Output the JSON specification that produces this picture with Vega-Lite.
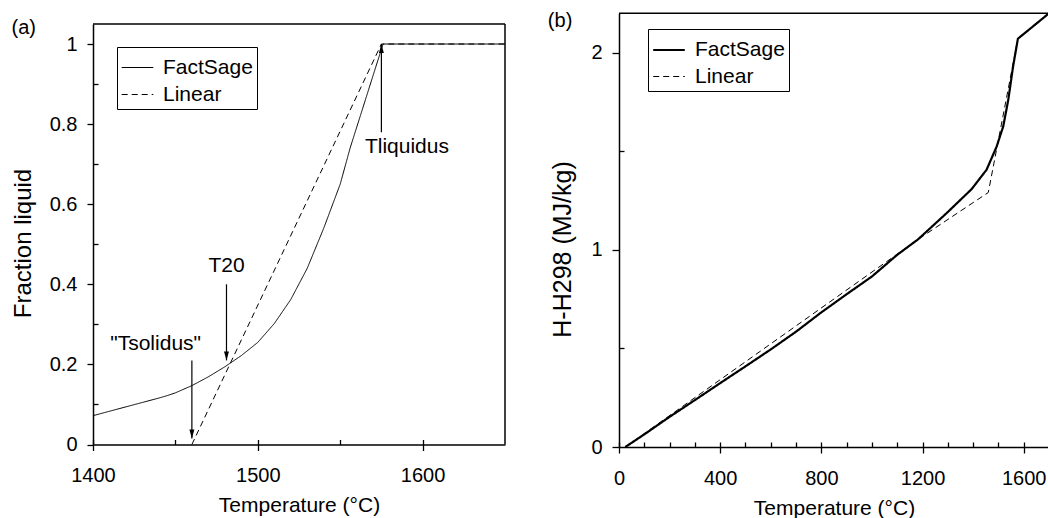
{
  "$schema": "https://vega.github.io/schema/vega-lite/v6.json",
  "width": 1048,
  "height": 518,
  "autosize": {"type": "none"},
  "padding": 0,
  "background": "white",
  "datasets": {
    "fracLiquid": [
      {"T": 1400, "f": 0.072, "series": "FactSage"},
      {"T": 1410, "f": 0.083, "series": "FactSage"},
      {"T": 1420, "f": 0.094, "series": "FactSage"},
      {"T": 1430, "f": 0.105, "series": "FactSage"},
      {"T": 1440, "f": 0.116, "series": "FactSage"},
      {"T": 1445, "f": 0.122, "series": "FactSage"},
      {"T": 1450, "f": 0.129, "series": "FactSage"},
      {"T": 1460, "f": 0.147, "series": "FactSage"},
      {"T": 1470, "f": 0.169, "series": "FactSage"},
      {"T": 1480, "f": 0.194, "series": "FactSage"},
      {"T": 1490, "f": 0.222, "series": "FactSage"},
      {"T": 1500, "f": 0.255, "series": "FactSage"},
      {"T": 1510, "f": 0.302, "series": "FactSage"},
      {"T": 1520, "f": 0.362, "series": "FactSage"},
      {"T": 1530, "f": 0.44, "series": "FactSage"},
      {"T": 1540, "f": 0.54, "series": "FactSage"},
      {"T": 1550, "f": 0.65, "series": "FactSage"},
      {"T": 1556, "f": 0.74, "series": "FactSage"},
      {"T": 1566, "f": 0.87, "series": "FactSage"},
      {"T": 1576, "f": 1.0, "series": "FactSage"},
      {"T": 1650, "f": 1.0, "series": "FactSage"},
      {"T": 1460, "f": 0.0, "series": "Linear"},
      {"T": 1575, "f": 1.0, "series": "Linear"},
      {"T": 1650, "f": 1.0, "series": "Linear"}
    ],
    "enthalpy": [
      {"T": 25, "H": 0.0, "series": "FactSage"},
      {"T": 100, "H": 0.064, "series": "FactSage"},
      {"T": 200, "H": 0.153, "series": "FactSage"},
      {"T": 300, "H": 0.238, "series": "FactSage"},
      {"T": 400, "H": 0.324, "series": "FactSage"},
      {"T": 500, "H": 0.409, "series": "FactSage"},
      {"T": 600, "H": 0.495, "series": "FactSage"},
      {"T": 700, "H": 0.585, "series": "FactSage"},
      {"T": 800, "H": 0.683, "series": "FactSage"},
      {"T": 900, "H": 0.775, "series": "FactSage"},
      {"T": 1000, "H": 0.865, "series": "FactSage"},
      {"T": 1100, "H": 0.975, "series": "FactSage"},
      {"T": 1183, "H": 1.054, "series": "FactSage"},
      {"T": 1295, "H": 1.186, "series": "FactSage"},
      {"T": 1394, "H": 1.308, "series": "FactSage"},
      {"T": 1453, "H": 1.406, "series": "FactSage"},
      {"T": 1493, "H": 1.524, "series": "FactSage"},
      {"T": 1519, "H": 1.626, "series": "FactSage"},
      {"T": 1539, "H": 1.761, "series": "FactSage"},
      {"T": 1558, "H": 1.93, "series": "FactSage"},
      {"T": 1577, "H": 2.071, "series": "FactSage"},
      {"T": 1700, "H": 2.2, "series": "FactSage"},
      {"T": 25, "H": 0.0, "series": "Linear"},
      {"T": 1183, "H": 1.054, "series": "Linear"},
      {"T": 1460, "H": 1.291, "series": "Linear"},
      {"T": 1577, "H": 2.071, "series": "Linear"},
      {"T": 1700, "H": 2.2, "series": "Linear"}
    ],
    "arrowsA": [
      {"name": "Tliquidus", "x": 1575, "tail": 0.78, "tip": 1.0, "dir": "up"},
      {"name": "T20", "x": 1481, "tail": 0.40, "tip": 0.21, "dir": "down"},
      {"name": "Tsolidus", "x": 1460, "tail": 0.21, "tip": 0.015, "dir": "down"}
    ],
    "labelsA": [
      {"text": "Tliquidus", "x": 1590.5, "y": 0.743},
      {"text": "T20", "x": 1481, "y": 0.446},
      {"text": "\"Tsolidus\"", "x": 1438, "y": 0.25}
    ],
    "panelA": [{"text": "(a)", "x": 1358, "y": 1.04}],
    "panelB": [{"text": "(b)", "x": -233, "y": 2.16}],
    "one": [{}]
  },
  "config": {
    "view": {"stroke": null},
    "font": "Liberation Sans",
    "axis": {
      "grid": false,
      "domainColor": "black",
      "domainWidth": 1.5,
      "tickColor": "black",
      "tickWidth": 1.3,
      "labelColor": "black",
      "labelFont": "Liberation Sans",
      "labelFontSize": 20,
      "titleColor": "black",
      "titleFont": "Liberation Sans",
      "titleFontSize": 21,
      "titleFontWeight": "normal",
      "labelFlush": false,
      "labelOverlap": false
    },
    "legend": {
      "labelFont": "Liberation Sans",
      "labelFontSize": 21,
      "labelColor": "black",
      "symbolStrokeColor": "black",
      "strokeColor": "black",
      "fillColor": "white",
      "padding": 4,
      "labelOffset": 9,
      "rowPadding": -2,
      "symbolType": "stroke",
      "symbolSize": 1000
    }
  },
  "layer": [
    {
      "layer": [
        {
          "data": {"name": "fracLiquid"},
          "mark": {"type": "line", "color": "black", "strokeWidth": 1},
          "encoding": {
            "x": {
              "field": "T", "type": "quantitative",
              "scale": {"domain": [1400, 1650], "range": [93, 505], "nice": false, "zero": false},
              "axis": {"orient": "bottom", "offset": -73.5, "values": [1400, 1500, 1600], "format": "d", "tickSize": 6, "labelPadding": 15, "title": "Temperature (°C)", "titlePadding": 9}
            },
            "y": {
              "field": "f", "type": "quantitative",
              "scale": {"domain": [0, 1.05], "range": [444.5, 24], "nice": false, "zero": false},
              "axis": {"orient": "left", "offset": -93, "values": [0, 0.2, 0.4, 0.6, 0.8, 1], "format": "~g", "tickSize": 6, "labelPadding": 10, "title": "Fraction liquid", "titleFontSize": 24, "titlePadding": 14, "titleY": 243}
            },
            "strokeDash": {
              "field": "series", "type": "nominal",
              "scale": {"domain": ["FactSage", "Linear"], "range": [[1, 0], [6, 4]]},
              "legend": {"orient": "none", "legendX": 117, "legendY": 47, "title": null, "symbolStrokeWidth": 1.2}
            }
          }
        },
        {
          "data": {"name": "one"},
          "mark": {"type": "rule", "color": "black", "strokeWidth": 1.5},
          "encoding": {
            "x": {"datum": 1400, "type": "quantitative", "axis": {"orient": "bottom", "offset": -73.5, "values": [1400, 1450, 1500, 1550, 1600], "tickSize": -5, "labels": false, "domain": false, "title": null}},
            "x2": {"datum": 1650},
            "y": {"datum": 1.05, "type": "quantitative", "axis": {"orient": "left", "offset": -93, "values": [0.1, 0.3, 0.5, 0.7, 0.9], "tickSize": -5, "labels": false, "domain": false, "title": null}}
          }
        },
        {
          "data": {"name": "one"},
          "mark": {"type": "rule", "color": "black", "strokeWidth": 1.5},
          "encoding": {
            "x": {"datum": 1650, "type": "quantitative", "axis": null},
            "y": {"datum": 0, "type": "quantitative", "axis": null},
            "y2": {"datum": 1.05}
          }
        },
        {
          "data": {"name": "arrowsA"},
          "mark": {"type": "rule", "color": "black", "strokeWidth": 1.2},
          "encoding": {
            "x": {"field": "x", "type": "quantitative", "axis": null},
            "y": {"field": "tail", "type": "quantitative", "axis": null},
            "y2": {"field": "tip"}
          }
        },
        {
          "data": {"name": "arrowsA"},
          "mark": {"type": "point", "filled": true, "color": "black", "opacity": 1, "size": 81},
          "encoding": {
            "x": {"field": "x", "type": "quantitative", "axis": null},
            "y": {"field": "tip", "type": "quantitative", "axis": null},
            "shape": {"field": "dir", "type": "nominal", "scale": {"domain": ["down", "up"], "range": ["M0,0L-0.55,-2L0.55,-2Z", "M0,0L-0.55,2L0.55,2Z"]}, "legend": null}
          }
        },
        {
          "data": {"name": "labelsA"},
          "mark": {"type": "text", "fontSize": 21, "color": "black", "font": "Liberation Sans"},
          "encoding": {
            "x": {"field": "x", "type": "quantitative", "axis": null},
            "y": {"field": "y", "type": "quantitative", "axis": null},
            "text": {"field": "text"}
          }
        },
        {
          "data": {"name": "panelA"},
          "mark": {"type": "text", "fontSize": 20, "color": "black", "font": "Liberation Sans"},
          "encoding": {
            "x": {"field": "x", "type": "quantitative", "axis": null},
            "y": {"field": "y", "type": "quantitative", "axis": null},
            "text": {"field": "text"}
          }
        }
      ],
      "resolve": {"axis": {"x": "independent", "y": "independent"}}
    },
    {
      "layer": [
        {
          "data": {"name": "enthalpy"},
          "mark": {"type": "line", "color": "black"},
          "encoding": {
            "x": {
              "field": "T", "type": "quantitative",
              "scale": {"domain": [0, 1700], "range": [619, 1049], "nice": false, "zero": false},
              "axis": {"orient": "bottom", "offset": -71, "values": [0, 400, 800, 1200, 1600], "format": "d", "tickSize": 6, "labelPadding": 15, "title": "Temperature (°C)", "titlePadding": 9}
            },
            "y": {
              "field": "H", "type": "quantitative",
              "scale": {"domain": [0, 2.2], "range": [447, 13.3], "nice": false, "zero": false},
              "axis": {"orient": "left", "offset": -619, "values": [0, 1, 2], "format": "d", "tickSize": 7, "labelPadding": 10, "title": "H-H298 (MJ/kg)", "titleFontSize": 25, "titlePadding": 15, "titleY": 249}
            },
            "strokeDash": {
              "field": "series", "type": "nominal",
              "scale": {"domain": ["FactSage", "Linear"], "range": [[1, 0], [6, 4]]},
              "legend": {"orient": "none", "legendX": 648, "legendY": 29, "title": null}
            },
            "strokeWidth": {
              "field": "series", "type": "nominal",
              "scale": {"domain": ["FactSage", "Linear"], "range": [2.2, 1]},
              "legend": {"orient": "none", "legendX": 648, "legendY": 29, "title": null}
            }
          }
        },
        {
          "data": {"name": "one"},
          "mark": {"type": "rule", "color": "black", "strokeWidth": 1.5},
          "encoding": {
            "x": {"datum": 0, "type": "quantitative", "axis": {"orient": "bottom", "offset": -71, "values": [0, 100, 200, 300, 400, 500, 600, 700, 800, 900, 1000, 1100, 1200, 1300, 1400, 1500, 1600, 1700], "tickSize": -5, "labels": false, "domain": false, "title": null}},
            "x2": {"datum": 1700},
            "y": {"datum": 2.2, "type": "quantitative", "axis": {"orient": "left", "offset": -619, "values": [0.5, 1.5], "tickSize": -5, "labels": false, "domain": false, "title": null}}
          }
        },
        {
          "data": {"name": "panelB"},
          "mark": {"type": "text", "fontSize": 20, "color": "black", "font": "Liberation Sans"},
          "encoding": {
            "x": {"field": "x", "type": "quantitative", "axis": null},
            "y": {"field": "y", "type": "quantitative", "axis": null},
            "text": {"field": "text"}
          }
        }
      ],
      "resolve": {"axis": {"x": "independent", "y": "independent"}}
    }
  ],
  "resolve": {
    "scale": {"x": "independent", "y": "independent", "strokeDash": "independent", "strokeWidth": "independent", "shape": "independent"},
    "axis": {"x": "independent", "y": "independent"},
    "legend": {"strokeDash": "independent", "strokeWidth": "independent"}
  }
}
